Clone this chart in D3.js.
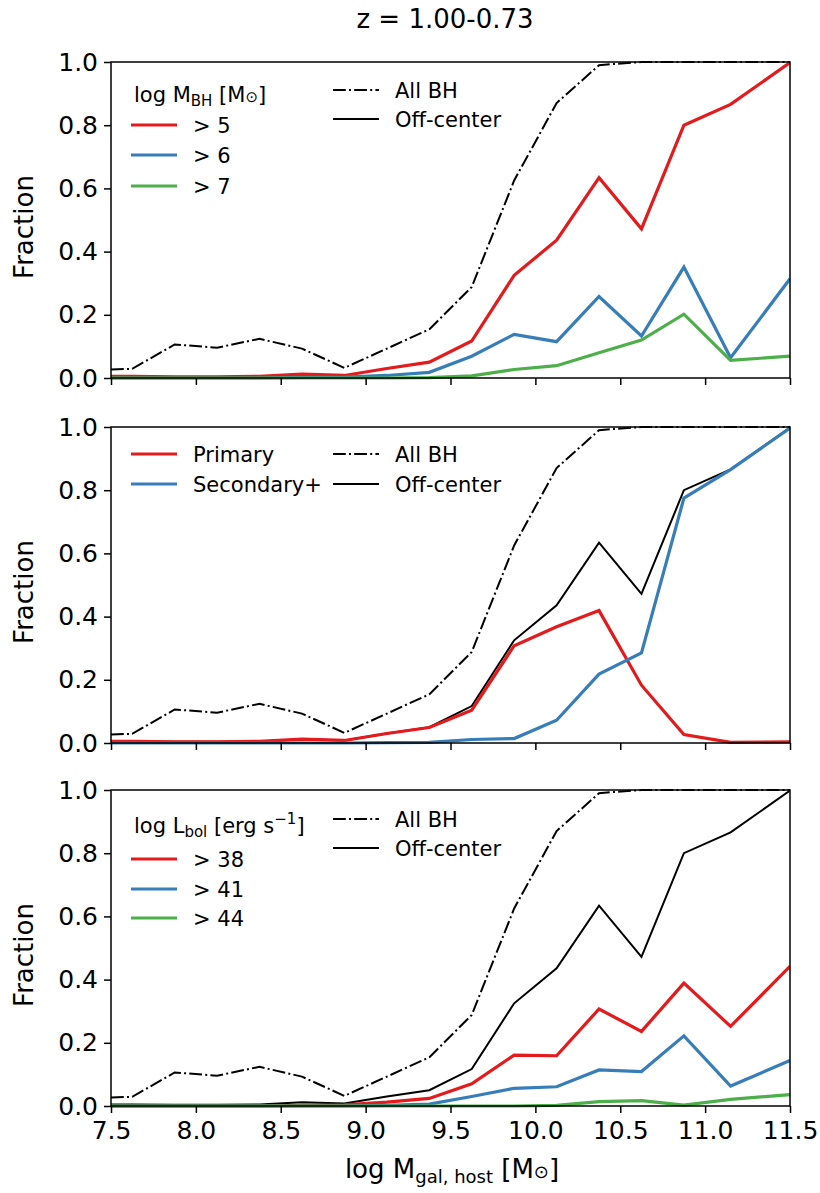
<!DOCTYPE html>
<html>
<head>
<meta charset="utf-8">
<script src="https://cdn.jsdelivr.net/npm/d3@7"></script>
<style>
  body { margin: 0; background: #fff; }
  svg { display: block; font-family: "DejaVu Sans", sans-serif; }
</style>
</head>
<body>
<div id="chart"></div>
<script>
// data (bin centres in log M_gal)
const massBins = [7.5, 7.625, 7.875, 8.125, 8.375, 8.625, 8.875, 9.125, 9.375, 9.625, 9.875, 10.125, 10.375, 10.625, 10.875, 11.15, 11.5];
const allBH     = [0.027, 0.029, 0.106, 0.096, 0.124, 0.093, 0.032, 0.093, 0.154, 0.288, 0.625, 0.87, 0.99, 1.0, 1.0, 1.0, 1.0];
const offCenter = [0.005, 0.005, 0.004, 0.004, 0.005, 0.012, 0.008, 0.03, 0.05, 0.117, 0.325, 0.436, 0.634, 0.472, 0.80, 0.866, 0.998];

// top panel: BH mass cuts
const mbh5 = [0.005, 0.005, 0.004, 0.004, 0.005, 0.012, 0.008, 0.03, 0.05, 0.117, 0.325, 0.436, 0.634, 0.472, 0.80, 0.866, 0.998];
const mbh6 = [0, 0, 0, 0, 0, 0.002, 0.003, 0.008, 0.018, 0.069, 0.138, 0.115, 0.258, 0.133, 0.351, 0.064, 0.314];
const mbh7 = [0, 0, 0, 0, 0, 0, 0, 0, 0.001, 0.007, 0.027, 0.039, 0.08, 0.12, 0.202, 0.056, 0.069];

// middle panel: primary vs secondary
const primary   = [0.005, 0.005, 0.004, 0.004, 0.005, 0.012, 0.008, 0.03, 0.049, 0.104, 0.308, 0.368, 0.419, 0.183, 0.027, 0.002, 0.004];
const secondary = [0, 0, 0, 0, 0, 0, 0, 0.001, 0.002, 0.011, 0.014, 0.072, 0.218, 0.285, 0.775, 0.865, 0.997];

// bottom panel: luminosity cuts
const lbol38 = [0, 0, 0, 0, 0, 0.002, 0.004, 0.012, 0.024, 0.07, 0.161, 0.159, 0.307, 0.236, 0.389, 0.252, 0.442];
const lbol41 = [0, 0, 0, 0, 0, 0, 0, 0.002, 0.006, 0.03, 0.056, 0.061, 0.114, 0.109, 0.222, 0.063, 0.144];
const lbol44 = [0, 0, 0, 0, 0, 0, 0, 0, 0, 0, 0, 0.002, 0.014, 0.017, 0.003, 0.021, 0.036];

const xTicks = [7.5, 8.0, 8.5, 9.0, 9.5, 10.0, 10.5, 11.0, 11.5];
const yTicks = [0, 0.2, 0.4, 0.6, 0.8, 1.0];

const red = "#e41a1c", blue = "#377eb8", green = "#4daf4a";
const dashDot = "12.8,3.2,2,3.2";

const W = 820, H = 1193;
const left = 111, right = 790, panelH = 316;
const panelTops = [62, 427, 790];

const svg = d3.select("#chart").append("svg")
    .attr("width", W).attr("height", H);

const x = d3.scaleLinear().domain([7.5, 11.5]).range([left, right]);

// title
svg.append("text")
    .attr("x", 445).attr("y", 28)
    .attr("text-anchor", "middle")
    .style("font-size", "26px")
    .text("z = 1.00-0.73");

function drawPanel(i, cfg) {
    const top = panelTops[i];
    const y = d3.scaleLinear().domain([0, 1]).range([top + panelH, top]);
    const g = svg.append("g");

    const clipId = "clip" + i;
    svg.append("clipPath").attr("id", clipId)
        .append("rect")
        .attr("x", left).attr("y", top - 3)
        .attr("width", right - left).attr("height", panelH + 6);

    const line = d3.line().x((d, j) => x(massBins[j])).y(d => y(d));
    const lines = g.append("g").attr("clip-path", `url(#${clipId})`);

    cfg.series.forEach(s => {
        lines.append("path")
            .datum(s.values)
            .attr("d", line)
            .attr("fill", "none")
            .attr("stroke", s.color)
            .attr("stroke-width", s.width)
            .attr("stroke-dasharray", s.dash || null)
            .attr("stroke-linejoin", "miter");
    });

    // axes
    const yAxis = g.append("g")
        .attr("transform", `translate(${left},0)`)
        .call(d3.axisLeft(y).tickValues(yTicks).tickFormat(d3.format(".1f")).tickSize(7).tickPadding(6));
    const xAxis = g.append("g")
        .attr("transform", `translate(0,${top + panelH})`)
        .call(d3.axisBottom(x).tickValues(xTicks)
            .tickFormat(cfg.xLabels ? d3.format(".1f") : "").tickSize(7).tickPadding(8));
    [yAxis, xAxis].forEach(a => {
        a.select(".domain").remove();
        a.selectAll("line").attr("stroke", "#000").attr("stroke-width", 1.5);
        a.selectAll("text").style("font-size", "25px").attr("fill", "#000")
            .style("font-family", "DejaVu Sans, sans-serif");
    });

    // frame
    g.append("rect")
        .attr("x", left).attr("y", top)
        .attr("width", right - left).attr("height", panelH)
        .attr("fill", "none").attr("stroke", "#000").attr("stroke-width", 1.5);

    // y label
    g.append("text")
        .attr("transform", `translate(33,${top + panelH / 2 + 7}) rotate(-90)`)
        .attr("text-anchor", "middle")
        .style("font-size", "26px")
        .text("Fraction");

    // legends
    const leg = g.append("g").style("font-size", "21px");
    if (cfg.legendTitle) {
        const t = leg.append("text").attr("x", 134).attr("y", top + cfg.legendTitle.dy);
        cfg.legendTitle.parts(t);
    }
    cfg.legend.forEach(e => {
        const yy = top + e.dy;
        leg.append("line")
            .attr("x1", e.x).attr("x2", e.x + 46)
            .attr("y1", yy).attr("y2", yy)
            .attr("stroke", e.color).attr("stroke-width", e.width)
            .attr("stroke-dasharray", e.dash || null);
        leg.append("text")
            .attr("x", e.x + 62).attr("y", yy + 7.5)
            .text(e.label);
    });
}

const blackLegend = (d1, d2) => [
    { x: 333, dy: d1, color: "#000", width: 2, dash: dashDot, label: "All BH" },
    { x: 333, dy: d2, color: "#000", width: 2, label: "Off-center" }
];

drawPanel(0, {
    series: [
        { values: allBH, color: "#000", width: 2, dash: dashDot },
        { values: mbh5, color: red, width: 3.2 },
        { values: mbh6, color: blue, width: 3.2 },
        { values: mbh7, color: green, width: 3.2 }
    ],
    legendTitle: {
        dy: 40,
        parts: t => {
            t.append("tspan").text("log M");
            t.append("tspan").attr("dy", 4).style("font-size", "15px").text("BH");
            t.append("tspan").attr("dy", -4).text(" [M");
            t.append("tspan").style("font-size", "15px").text("⊙");
            t.append("tspan").text("]");
        }
    },
    legend: [
        { x: 131, dy: 63, color: red, width: 3.2, label: "> 5" },
        { x: 131, dy: 93, color: blue, width: 3.2, label: "> 6" },
        { x: 131, dy: 124, color: green, width: 3.2, label: "> 7" }
    ].concat(blackLegend(28, 57))
});

drawPanel(1, {
    series: [
        { values: allBH, color: "#000", width: 2, dash: dashDot },
        { values: offCenter, color: "#000", width: 2 },
        { values: primary, color: red, width: 3.2 },
        { values: secondary, color: blue, width: 3.2 }
    ],
    legend: [
        { x: 131, dy: 27, color: red, width: 3.2, label: "Primary" },
        { x: 131, dy: 57, color: blue, width: 3.2, label: "Secondary+" }
    ].concat(blackLegend(27, 57))
});

drawPanel(2, {
    series: [
        { values: allBH, color: "#000", width: 2, dash: dashDot },
        { values: offCenter, color: "#000", width: 2 },
        { values: lbol38, color: red, width: 3.2 },
        { values: lbol41, color: blue, width: 3.2 },
        { values: lbol44, color: green, width: 3.2 }
    ],
    xLabels: true,
    legendTitle: {
        dy: 43,
        parts: t => {
            t.append("tspan").text("log L");
            t.append("tspan").attr("dy", 4).style("font-size", "15px").text("bol");
            t.append("tspan").attr("dy", -4).text(" [erg s");
            t.append("tspan").attr("dy", -9).style("font-size", "15px").text("−1");
            t.append("tspan").attr("dy", 9).text("]");
        }
    },
    legend: [
        { x: 131, dy: 69, color: red, width: 3.2, label: "> 38" },
        { x: 131, dy: 99, color: blue, width: 3.2, label: "> 41" },
        { x: 131, dy: 128, color: green, width: 3.2, label: "> 44" }
    ].concat(blackLegend(29, 58))
});

// x label
const xl = svg.append("text")
    .attr("x", 452).attr("y", 1178)
    .attr("text-anchor", "middle")
    .style("font-size", "26px");
xl.append("tspan").text("log M");
xl.append("tspan").attr("dy", 5).style("font-size", "18px").text("gal, host");
xl.append("tspan").attr("dy", -5).text(" [M");
xl.append("tspan").style("font-size", "18px").text("⊙");
xl.append("tspan").text("]");
</script>
</body>
</html>
